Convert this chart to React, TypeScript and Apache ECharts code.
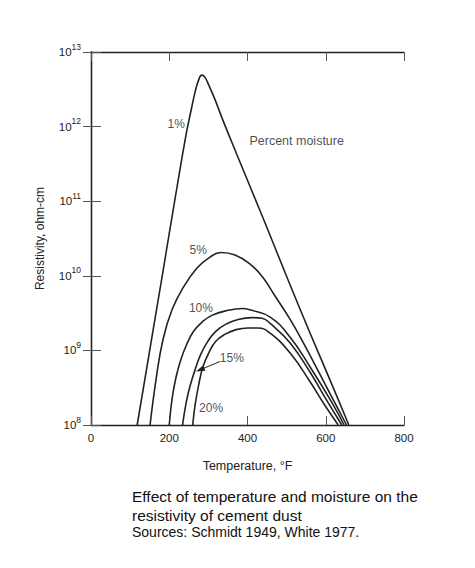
import React, { useEffect, useRef } from "react";
import * as echarts from "echarts";

// Temperature (°F) vs resistivity (ohm-cm), one series per percent moisture
const moisture1: [number, number][] = [
  [118, 1e8], [151, 1.07e9], [184, 1.15e10], [217, 1.26e11], [243, 7.8e11],
  [256, 1.67e12], [266, 2.9e12], [275, 4.2e12], [283, 4.9e12], [291, 4.6e12],
  [301, 3.6e12], [317, 2.3e12], [335, 1.3e12], [373, 4.2e11], [440, 5.9e10],
  [504, 8.7e9], [560, 1.7e9], [611, 4.0e8], [659, 1e8],
];
const moisture5: [number, number][] = [
  [151, 1e8], [166, 4.0e8], [184, 1.4e9], [207, 3.5e9], [235, 6.9e9],
  [271, 1.27e10], [304, 1.78e10], [332, 2.05e10], [368, 1.9e10], [406, 1.45e10],
  [440, 9.4e9], [470, 5.4e9], [509, 2.6e9], [547, 1.15e9], [585, 4.8e8],
  [624, 1.95e8], [653, 1e8],
];
const moisture10: [number, number][] = [
  [200, 1e8], [207, 2.2e8], [217, 4.3e8], [230, 7.6e8], [245, 1.22e9],
  [263, 1.83e9], [284, 2.4e9], [309, 2.95e9], [345, 3.4e9], [388, 3.65e9],
  [406, 3.5e9], [458, 2.8e9], [509, 1.5e9], [560, 6.0e8], [611, 2.2e8],
  [647, 1e8],
];
const moisture15: [number, number][] = [
  [234, 1e8], [243, 1.97e8], [253, 3.3e8], [266, 5.5e8], [281, 9.0e8],
  [299, 1.33e9], [319, 1.8e9], [345, 2.25e9], [376, 2.6e9], [411, 2.75e9],
  [437, 2.7e9], [458, 2.3e9], [509, 1.26e9], [560, 5.1e8], [601, 2.2e8],
  [641, 1e8],
];
const moisture20: [number, number][] = [
  [260, 1e8], [266, 1.85e8], [275, 3.4e8], [286, 6.0e8], [302, 9.5e8],
  [319, 1.33e9], [343, 1.65e9], [371, 1.9e9], [401, 2.0e9], [427, 2.0e9],
  [458, 1.7e9], [509, 9.2e8], [560, 3.8e8], [596, 1.9e8], [632, 1e8],
];

// Curve labels: [temperature, resistivity, text]
const curveLabels: [number, number, string][] = [
  [218, 1.07e12, "1%"],
  [274, 2.2e10, "5%"],
  [281, 3.7e9, "10%"],
  [360, 8.0e8, "15%"],
  [307, 1.7e8, "20%"],
];
const legendNote: [number, number, string] = [405, 6.4e11, "Percent moisture"];
const arrowFrom: [number, number] = [330, 7.1e8];
const arrowTo: [number, number] = [279, 5.5e8];

const xTicks = [0, 200, 400, 600, 800];
const xMin = 0;
const xMax = 800;
const yMin = 1e8;
const yMax = 1e13;

const captionLines = [
  "Effect of temperature and moisture on the",
  "resistivity of cement dust",
];
const sourceLine = "Sources: Schmidt 1949, White 1977.";

const FONT = "Liberation Sans, Arial, Helvetica, sans-serif";
const INK = "#222";

export default function App() {
  const ref = useRef<HTMLDivElement>(null);

  useEffect(() => {
    if (!ref.current) return;
    const chart = echarts.init(ref.current, undefined, { renderer: "svg" });

    const curveSeries = [moisture1, moisture5, moisture10, moisture15, moisture20].map(
      (d, i) => ({
        type: "line" as const,
        name: "c" + i,
        data: d,
        showSymbol: false,
        symbol: "none",
        smooth: 0.45,
        lineStyle: { color: INK, width: 1.6 },
        silent: true,
        z: 3,
      })
    );

    chart.setOption({
      animation: false,
      backgroundColor: "#fff",
      textStyle: { fontFamily: FONT },
      grid: { left: 91, top: 52, right: 71, bottom: 143, containLabel: false },
      xAxis: [
        {
          type: "value",
          min: xMin,
          max: xMax,
          interval: 200,
          name: "Temperature, °F",
          nameLocation: "middle",
          nameGap: 34,
          nameTextStyle: { fontSize: 12.5, color: INK, fontFamily: FONT },
          axisLine: { show: true, lineStyle: { color: INK, width: 1.3 } },
          axisTick: { show: true, inside: true, length: 9, lineStyle: { color: "#555", width: 1 } },
          axisLabel: {
            fontSize: 11.5,
            color: INK,
            margin: 7,
            fontFamily: FONT,
            formatter: (v: number) => (xTicks.includes(v) ? String(v) : ""),
          },
          splitLine: { show: false },
        },
        {
          type: "value",
          position: "top",
          min: xMin,
          max: xMax,
          interval: 200,
          axisLine: { show: true, lineStyle: { color: INK, width: 1.3 } },
          axisTick: { show: true, inside: true, length: 9, lineStyle: { color: "#555", width: 1 } },
          axisLabel: { show: false },
          splitLine: { show: false },
        },
      ],
      yAxis: [
        {
          type: "log",
          logBase: 10,
          min: yMin,
          max: yMax,
          name: "Resistivity, ohm-cm",
          nameLocation: "middle",
          nameGap: 45,
          nameRotate: 90,
          nameTextStyle: { fontSize: 12, color: INK, fontFamily: FONT },
          axisLine: { show: true, lineStyle: { color: INK, width: 1.3 } },
          axisTick: { show: true, inside: true, length: 10, lineStyle: { color: "#555", width: 1 } },
          axisLabel: {
            margin: 10,
            color: INK,
            fontFamily: FONT,
            formatter: (v: number) => `{b|10}{s|${Math.round(Math.log10(v))}}`,
            rich: {
              b: { fontSize: 11.5, color: INK, fontFamily: FONT, lineHeight: 14 },
              s: { fontSize: 8.5, color: INK, fontFamily: FONT, lineHeight: 20, verticalAlign: "top" },
            },
          },
          splitLine: { show: false },
        },
        {
          type: "log",
          logBase: 10,
          min: yMin,
          max: yMax,
          position: "right",
          axisLine: { show: true, lineStyle: { color: INK, width: 1.3 } },
          axisTick: { show: true, inside: true, length: 8, lineStyle: { color: "#555", width: 1 } },
          axisLabel: { show: false },
          splitLine: { show: false },
        },
      ],
      series: [
        ...curveSeries,
        {
          type: "scatter",
          name: "labels",
          data: curveLabels.map((l) => ({ value: [l[0], l[1]], name: l[2] })),
          symbolSize: 0,
          silent: true,
          label: {
            show: true,
            position: "inside",
            formatter: (p: any) => p.name,
            fontSize: 12,
            color: INK,
            fontFamily: FONT,
          },
          z: 5,
        },
        {
          type: "scatter",
          name: "note",
          data: [{ value: [legendNote[0], legendNote[1]], name: legendNote[2] }],
          symbolSize: 0,
          silent: true,
          label: {
            show: true,
            position: "right",
            distance: 0,
            formatter: (p: any) => p.name,
            fontSize: 12.5,
            color: INK,
            fontFamily: FONT,
          },
        },
        {
          type: "line",
          name: "arrow",
          data: [],
          silent: true,
          markLine: {
            silent: true,
            animation: false,
            symbol: ["none", "triangle"],
            symbolSize: [6, 9],
            label: { show: false },
            lineStyle: { color: INK, width: 1, type: "solid" },
            data: [[{ coord: arrowFrom }, { coord: arrowTo }]],
          },
        },
      ],
      graphic: [
        {
          type: "text",
          left: 132,
          top: 487,
          style: {
            text: captionLines.join("\n"),
            font: `15.5px ${FONT}`,
            fill: "#111",
            lineHeight: 19,
          },
        },
        {
          type: "text",
          left: 132,
          top: 525,
          style: {
            text: sourceLine,
            font: `14px ${FONT}`,
            fill: "#111",
          },
        },
      ],
    });

    return () => chart.dispose();
  }, []);

  return (
    <div
      ref={ref}
      style={{ position: "fixed", left: 0, top: 0, width: 475, height: 568 }}
    />
  );
}
